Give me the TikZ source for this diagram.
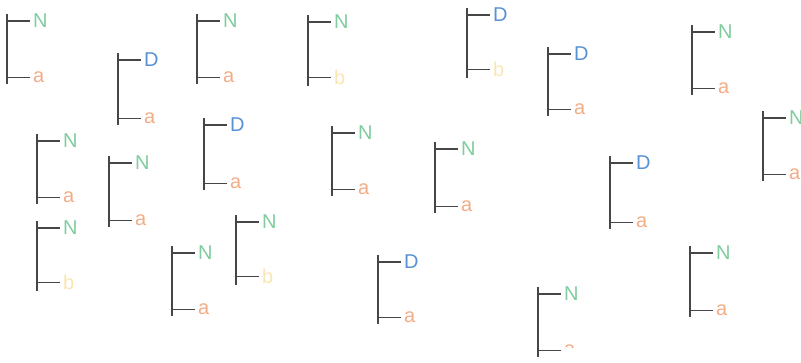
\documentclass[tikz,border=0pt]{standalone}
\usepackage{fontspec}
\setmainfont{Liberation Sans}
\usepackage{tikz}

\definecolor{colN}{RGB}{128,204,158}
\definecolor{colD}{RGB}{88,146,212}
\definecolor{cola}{RGB}{242,172,134}
\definecolor{colb}{RGB}{250,230,178}
\definecolor{stem}{RGB}{70,70,70}

\begin{document}
\begin{tikzpicture}[x=1pt,y=-1pt,
    spine/.style={draw=stem, line width=1.3pt},
    lbl/.style={anchor=base west, inner sep=0pt, font=\fontsize{20}{20}\selectfont}]
\useasboundingbox (0,0) rectangle (801,363);

% Brackets: stem x, upper tick y, lower tick y, upper and lower label
\foreach \x/\yt/\yb/\up/\lo [count=\i] in {
    7/21/77/N/a, 118/60/118/D/a, 197/21/77/N/a, 308/22/79/N/b,
    467/15/71/D/b, 548/54/109/D/a, 692/32/88/N/a, 763/118/174/N/a,
    37/141/197/N/a, 109/163/220/N/a, 37/228/284/N/b, 204/125/183/D/a,
    172/253/309/N/a, 236/222/278/N/b, 332/133/189/N/a, 435/149/206/N/a,
    610/163/222/D/a, 378/262/317/D/a, 690/253/310/N/a}
{
  \coordinate (top\i) at (\x,\yt-7);
  \coordinate (bot\i) at (\x,\yb+7);
  \node[lbl, text=col\up] (up\i) at (\x+26,\yt+7) {\up};
  \node[lbl, text=col\lo] (lo\i) at (\x+26,\yb+5.5) {\lo};
  \draw[spine] (top\i) -- (bot\i);
  \draw[spine, shorten >=3pt] (top\i |- up\i.west) -- (up\i.west);
  \draw[spine, shorten >=3pt] (top\i |- lo\i.west) -- (lo\i.west);
}

% Last bracket, lower label only partly shown
\coordinate (topL) at (538,287);
\coordinate (botL) at (538,357);
\node[lbl, text=colN] (upL) at (564,301) {N};
\begin{scope}
  \clip (550,330) rectangle (590,348);
  \node[lbl, text=cola] (loL) at (564,355.5) {a};
\end{scope}
\draw[spine] (topL) -- (botL);
\draw[spine, shorten >=3pt] (topL |- upL.west) -- (upL.west);
\draw[spine, shorten >=3pt] (topL |- loL.west) -- (loL.west);
\end{tikzpicture}
\end{document}
